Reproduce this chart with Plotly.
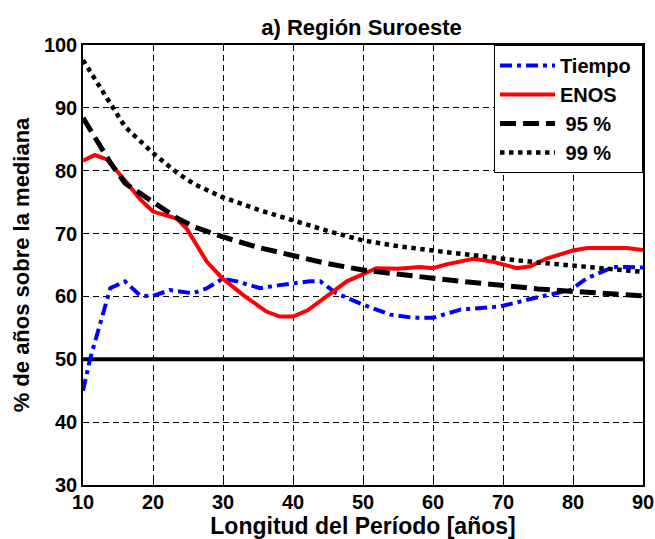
import plotly.graph_objects as go

# Data
tiempo_x = [10, 11, 13.9, 16, 18.1, 19.8, 22.4, 25.7, 27.7, 29.9, 32, 35.3, 38.1, 40, 42.4, 43.9, 46.2, 50, 53.9, 57.2, 60, 63.9, 69.6, 74.3, 79.6, 82, 85.8, 90]
tiempo_y = [45.0, 50.0, 61.3, 62.4, 60.2, 60.0, 61.0, 60.5, 61.3, 62.8, 62.4, 61.3, 61.8, 62.1, 62.4, 62.4, 60.5, 58.7, 57.1, 56.6, 56.6, 57.9, 58.4, 59.7, 61.0, 62.9, 64.7, 64.6]

enos_x = [10, 11.7, 13.4, 16.2, 18.1, 20, 23.4, 24.8, 27.7, 29.9, 32.9, 36.2, 38.1, 40, 42.1, 45, 47.7, 51.9, 55, 58.1, 60, 61.9, 65.8, 68.6, 72, 73.9, 76.2, 80, 82, 87.7, 90]
enos_y = [81.6, 82.5, 81.8, 78.2, 75.5, 73.5, 72.4, 70.8, 65.5, 62.9, 60.2, 57.6, 56.8, 56.8, 57.8, 60.2, 62.4, 64.5, 64.4, 64.7, 64.5, 65.1, 66.0, 65.5, 64.5, 64.8, 66.0, 67.3, 67.7, 67.7, 67.4]

p95_x = [10, 13.9, 16, 19.9, 23.4, 26, 29.9, 35, 40, 45, 50, 55, 60, 65, 70, 75, 80, 85, 90]
p95_y = [88.4, 81.3, 78.0, 75.0, 72.5, 71.0, 69.5, 67.8, 66.4, 65.2, 64.2, 63.5, 62.9, 62.3, 61.7, 61.2, 60.8, 60.5, 60.1]

p99_x = [10, 13.9, 16, 19.9, 23.4, 26, 29.9, 35, 40, 45, 50, 55, 60, 65, 70, 75, 80, 85, 90]
p99_y = [97.6, 90.8, 87.0, 82.9, 79.7, 77.8, 75.8, 73.8, 72.1, 70.4, 68.9, 68.0, 67.3, 66.6, 66.0, 65.4, 64.9, 64.4, 63.9]

median_x = [10, 90]
median_y = [50, 50]

series_names = ["Tiempo", "ENOS", "95 %", "99 %"]
x_ticks = [10, 20, 30, 40, 50, 60, 70, 80, 90]
y_ticks = [30, 40, 50, 60, 70, 80, 90, 100]

FONT = "Liberation Sans, Arial, sans-serif"
PAD = "\u00a0"  # small right padding inside the legend box

fig = go.Figure()
fig.add_trace(go.Scatter(x=median_x, y=median_y, mode="lines", showlegend=False,
                         line=dict(color="black", width=4), hoverinfo="skip"))
fig.add_trace(go.Scatter(x=tiempo_x, y=tiempo_y, mode="lines", name=series_names[0] + PAD, legendgroup="a",
                         line=dict(color="#0000ff", width=4, dash="12px,5px,4px,5px")))
fig.add_trace(go.Scatter(x=enos_x, y=enos_y, mode="lines", name=series_names[1], legendgroup="b",
                         line=dict(color="#ff0000", width=4)))
fig.add_trace(go.Scatter(x=p95_x, y=p95_y, mode="lines", name="\u00a0" + series_names[2], legendgroup="c",
                         line=dict(color="black", width=5, dash="16px,7px")))
fig.add_trace(go.Scatter(x=p99_x, y=p99_y, mode="lines", name="\u00a0" + series_names[3], legendgroup="d",
                         line=dict(color="black", width=4.5, dash="dot")))

axis_common = dict(
    showline=True, linecolor="black", linewidth=1.5, mirror="ticks",
    ticks="inside", ticklen=6, tickcolor="black",
    showgrid=True, gridcolor="black", gridwidth=1, griddash="6px,4px",
    zeroline=False, automargin=False,
    tickfont=dict(family=FONT, size=20, color="black", weight="bold"),
)

fig.update_layout(
    width=655, height=539,
    margin=dict(l=83, r=12, t=45, b=54),
    paper_bgcolor="white", plot_bgcolor="white",
    title=dict(text="a) Región Suroeste", x=0.552, xanchor="center", y=0.95, yanchor="middle",
               font=dict(family=FONT, size=22, color="black", weight="bold")),
    xaxis=dict(range=[10, 90], tickvals=x_ticks, ticklabelstandoff=-2,
               title=dict(text="Longitud del Período [años]", standoff=0,
                          font=dict(family=FONT, size=23, color="black", weight="bold")),
               **axis_common),
    yaxis=dict(range=[30, 100], tickvals=y_ticks,
               title=dict(text="% de años sobre la mediana", standoff=8,
                          font=dict(family=FONT, size=22, color="black", weight="bold")),
               **axis_common),
    legend=dict(x=1, xanchor="right", y=1, yanchor="top",
                bgcolor="white", bordercolor="black", borderwidth=1,
                font=dict(family=FONT, size=20, color="black", weight="bold"),
                tracegroupgap=0, itemwidth=55),
    showlegend=True,
)

fig.write_html("out.html")
